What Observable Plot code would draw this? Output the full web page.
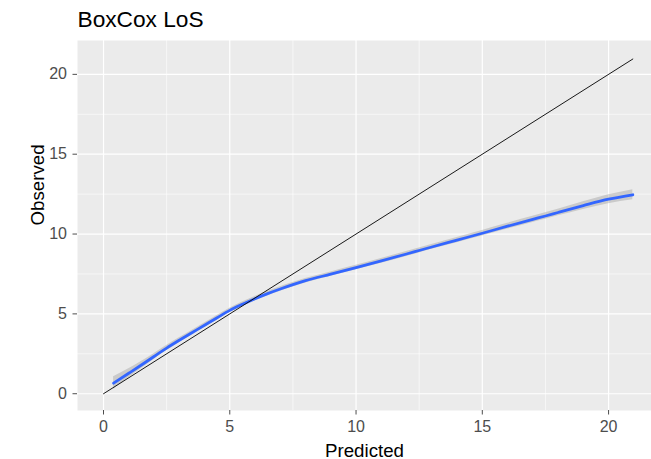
<!DOCTYPE html>
<html>
<head>
<meta charset="utf-8">
<script src="https://cdn.jsdelivr.net/npm/d3@7"></script>
<script src="https://cdn.jsdelivr.net/npm/@observablehq/plot@0.6"></script>
<style>
  html, body { margin: 0; padding: 0; background: white; }
  #title { box-sizing: border-box; height: 40px; padding-left: 77.5px; padding-top: 7.5px;
           font: 22.7px "Liberation Sans", Arial, sans-serif; line-height: 1; color: black; }
</style>
</head>
<body>
<div id="title">BoxCox LoS</div>
<div id="chart"></div>
<script>
// Smoothed fit (geom_smooth)
const predicted = [0.4, 1, 1.5, 2, 2.5, 3, 3.5, 4, 4.5, 5, 5.5, 6, 6.5, 7, 7.5, 8, 9, 10, 11, 12, 12.5, 13, 14, 15, 16, 17, 17.5, 18, 19, 20, 20.96];
const observed  = [0.66, 1.28, 1.80, 2.33, 2.86, 3.35, 3.82, 4.29, 4.76, 5.22, 5.60, 5.95, 6.27, 6.56, 6.83, 7.08, 7.49, 7.90, 8.32, 8.75, 8.97, 9.19, 9.62, 10.05, 10.49, 10.92, 11.13, 11.35, 11.78, 12.18, 12.46];
const ciLower   = [0.26, 1.00, 1.58, 2.15, 2.70, 3.20, 3.68, 4.15, 4.62, 5.08, 5.46, 5.81, 6.13, 6.42, 6.69, 6.94, 7.35, 7.76, 8.17, 8.60, 8.82, 9.04, 9.46, 9.88, 10.31, 10.73, 10.93, 11.14, 11.54, 11.90, 12.14];
const ciUpper   = [1.06, 1.56, 2.02, 2.51, 3.02, 3.50, 3.96, 4.43, 4.90, 5.36, 5.74, 6.09, 6.41, 6.70, 6.97, 7.22, 7.63, 8.04, 8.47, 8.90, 9.12, 9.34, 9.78, 10.22, 10.67, 11.11, 11.33, 11.56, 12.02, 12.46, 12.78];
// Identity reference line
const diagX = [0, 20.96];
const diagY = [0, 20.96];
// Ticks
const majorTicks = [0, 5, 10, 15, 20];
const minorTicks = [2.5, 7.5, 12.5, 17.5];
const xLabel = "Predicted";
const yLabel = "Observed";

const curve = predicted.map((x, i) => ({x, y: observed[i], lo: ciLower[i], hi: ciUpper[i]}));
const diag = diagX.map((x, i) => ({x, y: diagY[i]}));

const chart = Plot.plot({
  width: 651,
  height: 419,
  marginTop: 0,
  marginBottom: 49,
  marginLeft: 77,
  marginRight: 0,
  style: {fontFamily: "'Liberation Sans', Arial, sans-serif", fontSize: "16px", background: "white", overflow: "visible"},
  x: {domain: [-1.03, 21.70]},
  y: {domain: [-1.05, 22.12]},
  marks: [
    Plot.frame({fill: "#EBEBEB", stroke: "none"}),
    Plot.gridX(minorTicks, {stroke: "white", strokeOpacity: 1, strokeWidth: 0.6}),
    Plot.gridY(minorTicks, {stroke: "white", strokeOpacity: 1, strokeWidth: 0.6}),
    Plot.gridX(majorTicks, {stroke: "white", strokeOpacity: 1, strokeWidth: 1.2}),
    Plot.gridY(majorTicks, {stroke: "white", strokeOpacity: 1, strokeWidth: 1.2}),
    Plot.areaY(curve, {x: "x", y1: "lo", y2: "hi", fill: "#999999", fillOpacity: 0.4, curve: "monotone-x"}),
    Plot.line(curve, {x: "x", y: "y", stroke: "#3366FF", strokeWidth: 2.8, curve: "monotone-x"}),
    Plot.line(diag, {x: "x", y: "y", stroke: "black", strokeWidth: 0.9}),
    Plot.axisX(majorTicks, {tickSize: 4.5, tickPadding: 6, label: null, color: "#4D4D4D"}),
    Plot.axisY(majorTicks, {tickSize: 4.5, tickPadding: 6, label: null, color: "#4D4D4D"}),
    Plot.text([xLabel], {frameAnchor: "bottom", lineAnchor: "bottom", dy: 46, fontSize: 18.7, fill: "black"}),
    Plot.text([yLabel], {frameAnchor: "left", rotate: -90, lineAnchor: "bottom", dx: -34, fontSize: 18.7, fill: "black"})
  ]
});
document.getElementById("chart").appendChild(chart);
</script>
</body>
</html>
